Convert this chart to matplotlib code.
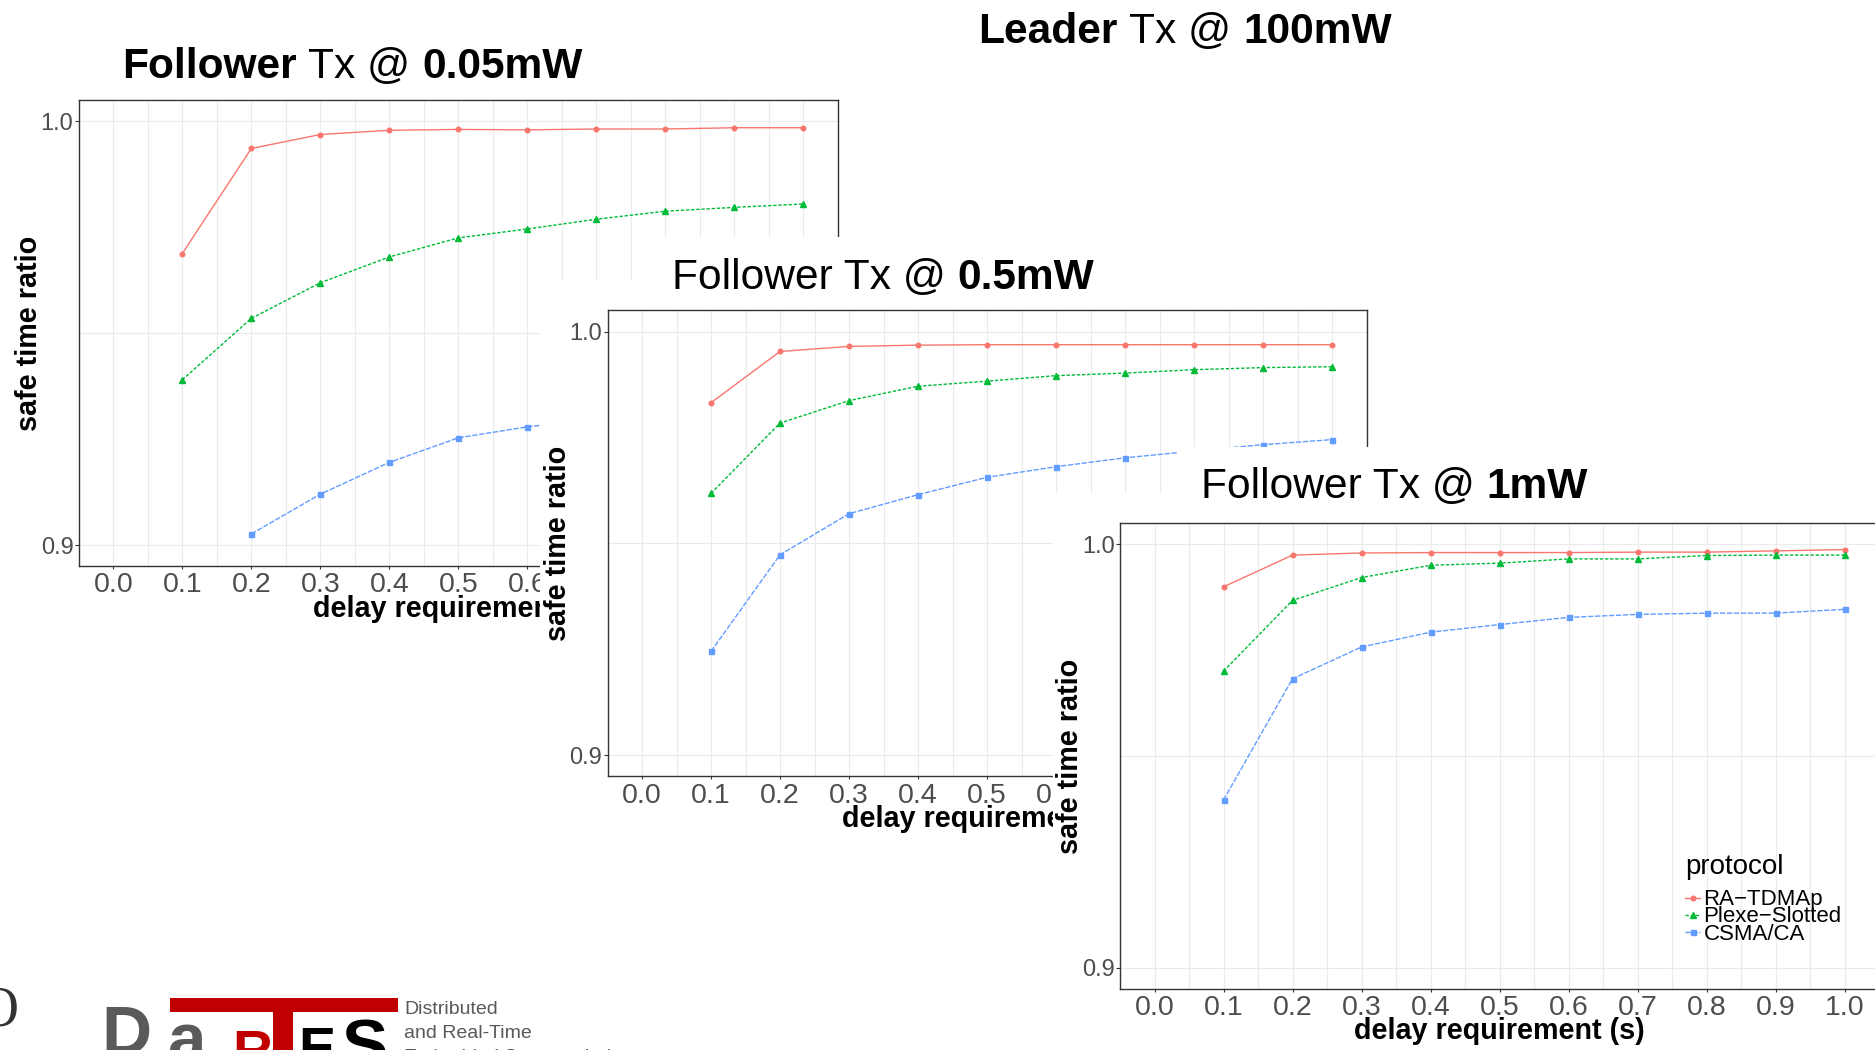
import numpy as np
import matplotlib
matplotlib.use("Agg")
import matplotlib.pyplot as plt
from matplotlib import font_manager as fm
from matplotlib.patches import Rectangle

W, H = 1875, 1050

# ---- data -------------------------------------------------------------
delay = [0.1, 0.2, 0.3, 0.4, 0.5, 0.6, 0.7, 0.8, 0.9, 1.0]
protocols = ["RA\u2212TDMAp", "Plexe\u2212Slotted", "CSMA/CA"]
x_ticks = [0.0, 0.1, 0.2, 0.3, 0.4, 0.5, 0.6, 0.7, 0.8, 0.9, 1.0]
x_tick_labels = ["0.0", "0.1", "0.2", "0.3", "0.4", "0.5", "0.6", "0.7", "0.8", "0.9", "1.0"]
y_ticks = [0.9, 1.0]
y_tick_labels = ["0.9", "1.0"]

# follower Tx @ 0.05 mW (CSMA/CA at 0.1 s lies below the plotted range)
ra_tdmap_005 = [0.9688, 0.9936, 0.9969, 0.9979, 0.9981, 0.9980, 0.9982, 0.9982, 0.9985, 0.9985]
plexe_005 = [0.9390, 0.9535, 0.9619, 0.9680, 0.9725, 0.9746, 0.9769, 0.9788, 0.9797, 0.9805]
csma_005 = [np.nan, 0.9026, 0.9120, 0.9195, 0.9253, 0.9279, 0.9297, 0.9310, 0.9320, 0.9327]

# follower Tx @ 0.5 mW
ra_tdmap_05 = [0.9832, 0.9953, 0.9965, 0.9968, 0.9969, 0.9969, 0.9969, 0.9969, 0.9969, 0.9969]
plexe_05 = [0.9618, 0.9784, 0.9837, 0.9871, 0.9883, 0.9896, 0.9902, 0.9910, 0.9915, 0.9917]
csma_05 = [0.9245, 0.9473, 0.9570, 0.9615, 0.9656, 0.9681, 0.9702, 0.9718, 0.9733, 0.9745]

# follower Tx @ 1 mW
ra_tdmap_1 = [0.9899, 0.9974, 0.9979, 0.9980, 0.9980, 0.9980, 0.9981, 0.9981, 0.9984, 0.9987]
plexe_1 = [0.9700, 0.9867, 0.9921, 0.9950, 0.9955, 0.9965, 0.9965, 0.9973, 0.9974, 0.9974]
csma_1 = [0.9396, 0.9682, 0.9757, 0.9792, 0.9810, 0.9827, 0.9834, 0.9837, 0.9837, 0.9846]

# ---- style ------------------------------------------------------------
names = {f.name for f in fm.fontManager.ttflist}
SANS = "Liberation Sans" if "Liberation Sans" in names else "DejaVu Sans"
NARROW = "Liberation Sans Narrow" if "Liberation Sans Narrow" in names else SANS
SERIF = "Liberation Serif" if "Liberation Serif" in names else "DejaVu Serif"
plt.rcParams["font.family"] = [SANS, "DejaVu Sans"]

styles = [
    dict(color="#F8766D", marker="o", markersize=3.3, linestyle="-", linewidth=1.0),
    dict(color="#00BA38", marker="^", markersize=4.6, linestyle=(0, (2.4, 1.3)), linewidth=1.0),
    dict(color="#619CFF", marker="s", markersize=3.6, linestyle=(0, (3.8, 1.2)), linewidth=1.0),
]

fig = plt.figure(figsize=(W / 100, H / 100), dpi=100)
fig.patch.set_facecolor("white")
renderer = fig.canvas.get_renderer()

AW, AH = 759.0, 466.0


def fx(x):
    return x / W


def fy(y):
    return 1 - y / H


def cover(x0, y0, x1, y1, z):
    fig.add_artist(Rectangle((fx(x0), fy(y1)), (x1 - x0) / W, (y1 - y0) / H,
                             transform=fig.transFigure, facecolor="white",
                             edgecolor="none", zorder=z))


def rich_text(x_px, base_px, parts, size, z, family=SANS, color="black"):
    """Draw a line made of regular/bold pieces separated by single spaces."""
    x = x_px
    for i, (txt, weight) in enumerate(parts):
        t = fig.text(fx(x), fy(base_px), txt, fontsize=size, fontweight=weight,
                     family=family, color=color, ha="left", va="baseline", zorder=z)
        x += t.get_window_extent(renderer=renderer).width
        if i < len(parts) - 1:
            a = fig.text(0, 0, "n n", fontsize=size, fontweight="normal", family=family)
            b = fig.text(0, 0, "nn", fontsize=size, fontweight="normal", family=family)
            x += (a.get_window_extent(renderer=renderer).width
                  - b.get_window_extent(renderer=renderer).width)
            a.remove()
            b.remove()


def panel(left, top, series, z):
    ax = fig.add_axes([fx(left), fy(top + AH), AW / W, AH / H])
    ax.set_zorder(z)
    ax.set_facecolor("white")
    lines = []
    for vals, st, name in zip(series, styles, protocols):
        ln, = ax.plot(delay, vals, label=name, **st)
        lines.append(ln)
    ax.set_xlim(-0.05, 1.05)
    ax.set_ylim(0.895, 1.005)
    ax.set_xticks(x_ticks)
    ax.set_xticklabels(x_tick_labels)
    ax.set_xticks(np.arange(-0.05, 1.06, 0.1), minor=True)
    ax.set_yticks(y_ticks)
    ax.set_yticklabels(y_tick_labels)
    ax.set_yticks([0.95], minor=True)
    ax.grid(which="both", color="#EBEBEB", linewidth=0.8)
    ax.set_axisbelow(True)
    for sp in ax.spines.values():
        sp.set_color("#333333")
        sp.set_linewidth(1.0)
    ax.tick_params(axis="x", which="major", length=2.4, width=0.8, color="#333333",
                   labelsize=20.5, labelcolor="#4D4D4D", pad=2)
    ax.tick_params(axis="y", which="major", length=2.9, width=0.8, color="#333333",
                   labelsize=17, labelcolor="#4D4D4D", pad=1)
    ax.tick_params(which="minor", length=0)
    ax.set_xlabel("delay requirement (s)", fontsize=20.7, fontweight="bold")
    ax.xaxis.set_label_coords(0.5, -42.5 / AH)
    ax.xaxis.label.set_verticalalignment("center")
    ax.set_ylabel("safe time ratio", fontsize=20.7, fontweight="bold")
    ax.yaxis.set_label_coords(-50 / AW, 0.5)
    ax.yaxis.label.set_verticalalignment("center")
    return ax, lines


TITLE = 30.6

# ---- follower 0.05 mW -------------------------------------------------
ax1, _ = panel(78.8, 100.2, [ra_tdmap_005, plexe_005, csma_005], 1)
rich_text(122.0, 78.5, [("Follower", "bold"), ("Tx @", "normal"), ("0.05mW", "bold")], TITLE, 1.5)
rich_text(978.3, 43.0, [("Leader", "bold"), ("Tx @", "normal"), ("100mW", "bold")], TITLE, 1.5)

# ---- follower 0.5 mW --------------------------------------------------
cover(539.6, 281, 1420, 860, 2)
cover(650, 237, 1420, 300, 2.1)
ax2, _ = panel(607.5, 310.4, [ra_tdmap_05, plexe_05, csma_05], 3)
rich_text(672.0, 288.6, [("Follower Tx @", "normal"), ("0.5mW", "bold")], TITLE, 3.5)

# ---- follower 1 mW ----------------------------------------------------
cover(1053, 493, W, H, 4)
cover(1178, 447, W, 520, 4.1)
ax3, lines3 = panel(1120.0, 522.9, [ra_tdmap_1, plexe_1, csma_1], 5)
rich_text(1201.0, 498.4, [("Follower Tx @", "normal"), ("1mW", "bold")], TITLE, 5.5)

fig.text(fx(1685), fy(874), "protocol", fontsize=20, ha="left", va="baseline", zorder=6)
leg = ax3.legend(handles=lines3, labels=protocols, loc="upper left",
                 bbox_to_anchor=(fx(1685), fy(889.5)), bbox_transform=fig.transFigure,
                 frameon=False, fontsize=16, handlelength=0.68, handletextpad=0.15,
                 labelspacing=-0.18, borderpad=0, borderaxespad=0)

# ---- lab logo ----------------------------------------------------------
fig.text(fx(19), fy(1025), "O", fontsize=40, family=SERIF, color="#333333",
         ha="right", va="baseline", zorder=6)
fig.add_artist(Rectangle((fx(169.6), fy(1012)), (398.2 - 169.6) / W, 14.3 / H,
                         transform=fig.transFigure, facecolor="#C00000",
                         edgecolor="none", zorder=6))
fig.add_artist(Rectangle((fx(273), fy(1060)), 20 / W, 48 / H,
                         transform=fig.transFigure, facecolor="#C00000",
                         edgecolor="none", zorder=6))
logo = [("D", 101, 1054, 50, "#5A5A5A"), ("a", 168, 1062, 50, "#5A5A5A"),
        ("R", 232, 1069, 40, "#C00000"), ("E", 298, 1066, 40, "#000000"),
        ("S", 342, 1068, 50, "#000000")]
for ch, lx, base, fs, col in logo:
    fig.text(fx(lx), fy(base), ch, fontsize=fs, fontweight="bold", family=NARROW,
             color=col, ha="left", va="baseline", zorder=6)
for txt, base in [("Distributed", 1013.5), ("and Real-Time", 1037.5),
                  ("Embedded Systems Lab", 1061.5)]:
    fig.text(fx(404), fy(base), txt, fontsize=14, color="#595959", family=NARROW,
             ha="left", va="baseline", zorder=6)

fig.savefig("out.png", dpi=100, facecolor="white")
